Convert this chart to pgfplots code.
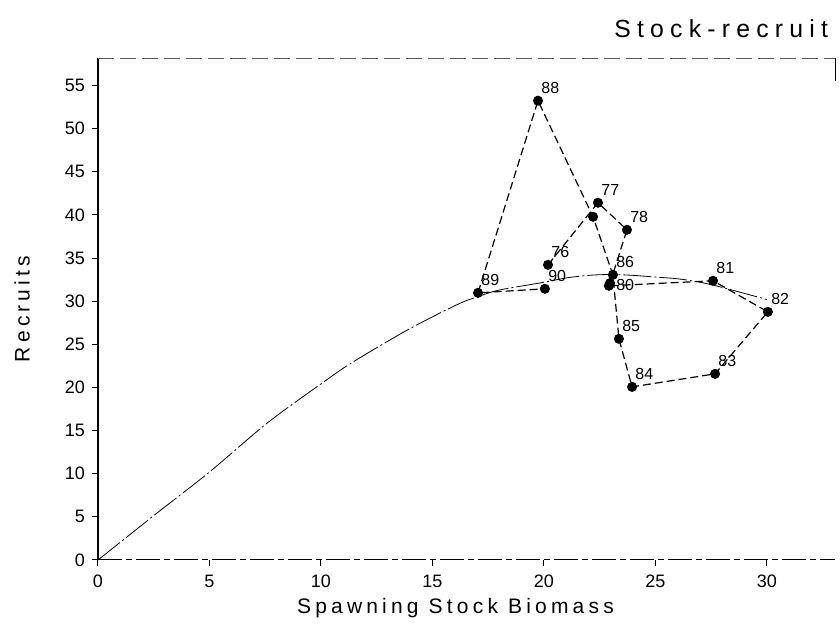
\documentclass[border=0pt]{standalone}
\usepackage{fontspec}
\setmainfont{Liberation Sans}
\usepackage{pgfplots}
\pgfplotsset{compat=1.18}

\begin{document}
\begin{tikzpicture}
\begin{axis}[
  scale only axis, width=368.5pt, height=251pt,
  xmin=0, xmax=33.05, ymin=0, ymax=58.2,
  axis line style={draw=none},
  xtick={0,5,...,30}, ytick={0,5,...,55},
  tick align=outside, tick pos=left, major tick length=3pt,
  tick style={black, line width=0.5pt},
  /pgf/number format/assume math mode=true,
  ticklabel style={font=\fontsize{9}{10}\selectfont},
  xticklabel style={yshift=-1pt},
  xlabel={Spawning Stock Biomass},
  ylabel={Recruits},
  label style={font=\fontsize{10.5}{12}\selectfont\addfontfeature{LetterSpace=20}},
  xlabel style={at={(axis description cs:0.485,-0.096)}, anchor=center},
  ylabel style={at={(axis description cs:-0.103,0.5)}, anchor=center},
  clip=false,
  yearlabel/.style={draw=none, mark=none, nodes near coords, point meta=explicit symbolic,
    nodes near coords style={inner sep=0pt, font=\fontsize{8}{9}\selectfont, #1}},
]
% frame
\draw[line width=0.8pt] (rel axis cs:0,0) -- (rel axis cs:0,1);
\draw[line width=0.5pt, dash pattern=on 12pt off 2pt on 3pt off 2pt] (rel axis cs:0,0) -- (rel axis cs:1,0);
\draw[line width=0.4pt, gray!70!black, dash pattern=on 8pt off 3pt] (rel axis cs:0,1) -- (rel axis cs:1,1);
\draw[line width=0.5pt] (rel axis cs:1,1) -- (rel axis cs:1,0.955);

% fitted stock-recruit curve
\addplot[black, line width=0.4pt, smooth, dash pattern={on 14pt off 1.5pt on 1pt off 1.5pt}] coordinates {
  (0,0) (2.65,5.45) (5,10.2) (7.6,15.9) (10.1,20.6) (11.4,22.9) (13.9,26.7)
  (16.1,29.6) (17,30.5) (18,31.3) (20,32.2) (21,32.7) (22,33.0) (23,33.1)
  (24,33.0) (25,32.8) (26,32.6) (27,32.2) (28,31.6) (29,30.9) (30,30.2)
};

% observed recruitment by year
\addplot[black, line width=0.6pt, dash pattern=on 4pt off 2pt,
  mark=*, mark size=2.2pt, mark options={solid, fill=black}] coordinates {
  (20.18,34.22) (22.42,41.42) (23.72,38.28) (22.96,32.1) (22.91,31.79)
  (27.58,32.37) (30.04,28.77) (27.67,21.58) (23.95,20.07) (23.36,25.64)
  (23.09,33.06) (22.20,39.79) (19.73,53.25) (17.04,30.97) (20.04,31.44)
};

% year labels
\addplot[yearlabel={anchor=south west, xshift=1.5pt, yshift=3.5pt}] coordinates {
  (20.18,34.22) [76] (22.42,41.42) [77] (23.72,38.28) [78]
  (27.58,32.37) [81] (30.04,28.77) [82] (27.67,21.58) [83] (23.95,20.07) [84]
  (23.36,25.64) [85] (23.09,33.06) [86] (19.73,53.25) [88] (17.04,30.97) [89]
  (20.04,31.44) [90]
};
\addplot[yearlabel={anchor=west, xshift=3.5pt, yshift=0.5pt}] coordinates {
  (22.91,31.79) [80]
};

\node[anchor=base east, font=\fontsize{12.4}{14}\selectfont\addfontfeature{LetterSpace=25}]
  at (rel axis cs:1,1) [yshift=10pt] {Stock-recruit};
\end{axis}
\pgfresetboundingbox
\path ([shift={(-49pt,-32.5pt)}]current axis.south west) rectangle ([shift={(2.5pt,29pt)}]current axis.north east);
\end{tikzpicture}
\end{document}
